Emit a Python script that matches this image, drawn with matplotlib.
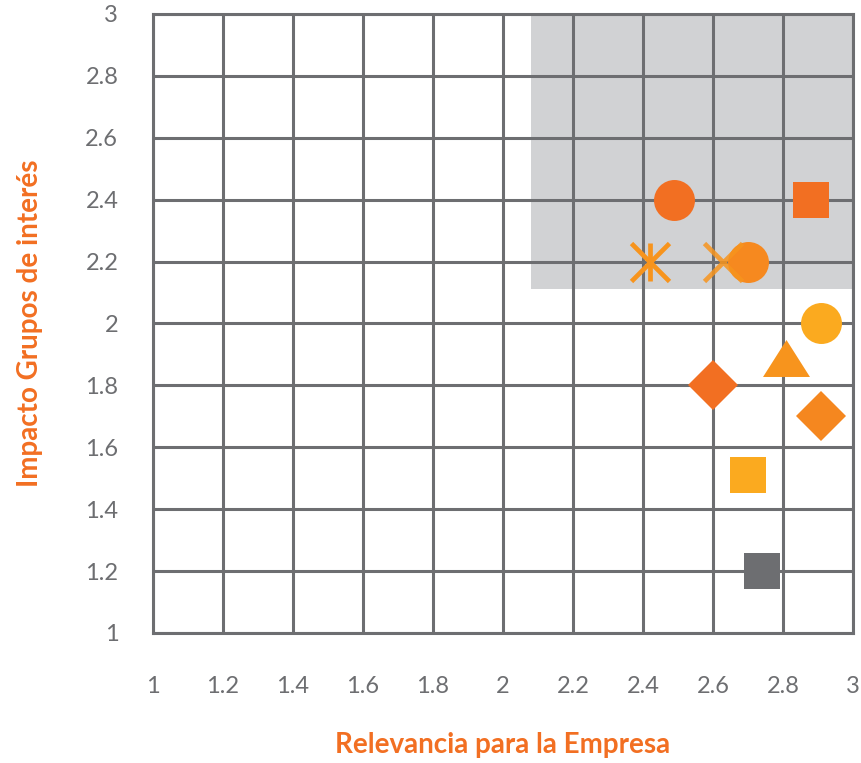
import matplotlib
matplotlib.use("Agg")
import matplotlib.pyplot as plt
from matplotlib.patches import Rectangle

# datos
relevancia = [2.49, 2.88, 2.70, 2.91, 2.81, 2.60, 2.91, 2.70, 2.74]
impacto = [2.40, 2.40, 2.20, 2.00, 1.89, 1.80, 1.70, 1.51, 1.20]
marcadores = ["o", "s", "o", "o", "tri", "D", "D", "s", "s"]
colores = ["#F26F22", "#F26F22", "#F6891F", "#FBAA1F", "#F7941D",
           "#F26F22", "#F5871F", "#FBAA1F", "#6D6E71"]

# asterisco y equis (lineas)
ast_x, ast_y = 2.42, 2.20
cruz_x, cruz_y = 2.63, 2.20

# zona sombreada (relevancia, impacto minimos)
zona_x0, zona_y0 = 2.08, 2.11

ticks = [1, 1.2, 1.4, 1.6, 1.8, 2, 2.2, 2.4, 2.6, 2.8, 3]
etiquetas = ["1", "1.2", "1.4", "1.6", "1.8", "2", "2.2", "2.4", "2.6", "2.8", "3"]

GRIS = "#6D6E71"
NARANJA = "#F26F22"

plt.rcParams["font.family"] = ["Lato", "DejaVu Sans"]

fig = plt.figure(figsize=(8.61, 7.63), dpi=100)
ax = fig.add_axes([0.1777, 0.1704, 0.8130, 0.8113])
ax.set_xlim(1, 3)
ax.set_ylim(1, 3)

ax.add_patch(Rectangle((zona_x0, zona_y0), 3 - zona_x0, 3 - zona_y0,
                       facecolor="#D1D2D4", edgecolor="none", zorder=0))

ax.set_xticks(ticks)
ax.set_yticks(ticks)
ax.set_xticklabels(etiquetas)
ax.set_yticklabels(etiquetas)
ax.grid(True, color=GRIS, linewidth=2.2, zorder=1)
ax.set_axisbelow(False)
for s in ax.spines.values():
    s.set_color(GRIS)
    s.set_linewidth(2.2)
    s.set_zorder(1)
ax.tick_params(length=0, labelcolor=GRIS, labelsize=17)
ax.tick_params(axis="x", pad=31)
ax.tick_params(axis="y", pad=25)

tri = [(-1.27, -1.0), (1.27, -1.0), (0.0, 1.0), (-1.27, -1.0)]
for x, y, m, c in zip(relevancia, impacto, marcadores, colores):
    if m == "o":
        ms = 29.5
    elif m == "s":
        ms = 26.6
    elif m == "D":
        ms = 25.5
    else:
        m = tri
        ms = 33.8
    ax.plot([x], [y], marker=m, markersize=ms, color=c,
            markeredgewidth=0, linestyle="none", zorder=3)

# asterisco: equis + barra vertical
ax.plot([ast_x], [ast_y], marker="x", markersize=27, markeredgewidth=3.4,
        color="#F7941D", linestyle="none", zorder=4)
ax.plot([ast_x], [ast_y], marker="|", markersize=27, markeredgewidth=3.4,
        color="#F7941D", linestyle="none", zorder=4)
ax.plot([cruz_x], [cruz_y], marker="x", markersize=27, markeredgewidth=3.4,
        color="#F7941D", alpha=0.85, linestyle="none", zorder=4)

ax.set_xlabel("Relevancia para la Empresa", color=NARANJA, fontsize=20,
              fontweight="bold", labelpad=25)
ax.set_ylabel("Impacto Grupos de interés", color=NARANJA, fontsize=20,
              fontweight="bold", labelpad=30)

fig.savefig("out.png", dpi=100)
